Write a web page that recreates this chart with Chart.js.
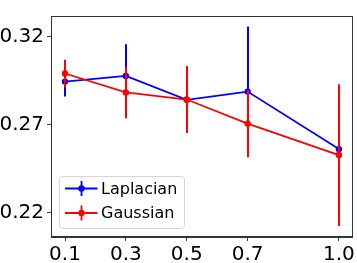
<!DOCTYPE html>
<html>
<head>
<meta charset="utf-8">
<script src="https://cdn.jsdelivr.net/npm/chart.js@4"></script>
<style>
  html, body { margin: 0; padding: 0; background: #fff; }
  #wrap { width: 357px; height: 263px; }
</style>
</head>
<body>
<div id="wrap"><canvas id="myChart" width="357" height="263"></canvas></div>
<script>
var xValues = [0.1, 0.3, 0.5, 0.7, 1.0];
var yTicks = [0.22, 0.27, 0.32];

var laplacian = [0.2946, 0.2978, 0.2842, 0.2889, 0.2562];
var laplacianErr = [0.0085, 0.018, 0.015, 0.037, 0.02];

var gaussian = [0.2992, 0.2884, 0.2844, 0.2707, 0.2528];
var gaussianErr = [0.0078, 0.0146, 0.0191, 0.0191, 0.0403];

var seriesNames = ["Laplacian", "Gaussian"];
var seriesColors = ["#0000ff", "#ff0000"];

function toPoints(values, errs) {
    return values.map(function (v, i) {
        return { x: xValues[i], y: v, err: errs[i] };
    });
}

// error bars, drawn just before each dataset so its line/markers sit on top
var errorBars = {
    id: "errorBars",
    beforeDatasetDraw: function (chart, args) {
        var ctx = chart.ctx;
        var ds = chart.data.datasets[args.index];
        var xs = chart.scales.x, ys = chart.scales.y;
        ctx.save();
        ctx.strokeStyle = ds.borderColor;
        ctx.lineWidth = 2;
        ds.data.forEach(function (p) {
            var px = Math.round(xs.getPixelForValue(p.x)); // snap so the later bar fully hides the earlier one
            ctx.beginPath();
            ctx.moveTo(px, ys.getPixelForValue(p.y - p.err));
            ctx.lineTo(px, ys.getPixelForValue(p.y + p.err));
            ctx.stroke();
        });
        ctx.restore();
    }
};

// frame on all four sides + matplotlib style legend in lower left
var frameAndLegend = {
    id: "frameAndLegend",
    afterDraw: function (chart) {
        var ctx = chart.ctx;
        var a = chart.chartArea;
        ctx.save();
        ctx.strokeStyle = "#333";
        ctx.lineWidth = 1;
        ctx.strokeRect(Math.round(a.left) + 0.5, Math.round(a.top) + 0.5,
            Math.round(a.right - a.left) - 1, Math.round(a.bottom - a.top) - 1);

        var bx = a.left + 8.5, by = a.top + 160.5, bw = 125, bh = 52;
        ctx.fillStyle = "rgba(255,255,255,0.8)";
        ctx.strokeStyle = "#d6d6d6";
        ctx.beginPath();
        ctx.roundRect(bx, by, bw, bh, 3);
        ctx.fill();
        ctx.stroke();

        ctx.font = "16px 'DejaVu Sans'";
        ctx.textBaseline = "middle";
        chart.data.datasets.forEach(function (ds, i) {
            var ly = by + 12 + i * 24.5;
            ctx.strokeStyle = ds.borderColor;
            ctx.lineWidth = 1.8;
            ctx.beginPath();
            ctx.moveTo(bx + 5.5, ly);
            ctx.lineTo(bx + 38, ly);
            ctx.moveTo(bx + 22, ly - 7.5);
            ctx.lineTo(bx + 22, ly + 7.5);
            ctx.stroke();
            ctx.fillStyle = ds.borderColor;
            ctx.beginPath();
            ctx.arc(bx + 22, ly, 3.2, 0, Math.PI * 2);
            ctx.fill();
            ctx.fillStyle = "#000";
            ctx.fillText(ds.label, bx + 41.5, ly + 1);
        });
        ctx.restore();
    }
};

var ctx = document.getElementById("myChart").getContext("2d");

var myNewChart = new Chart(ctx, {
    type: "line",
    data: {
        datasets: [{
            label: seriesNames[0],
            data: toPoints(laplacian, laplacianErr),
            borderColor: seriesColors[0],
            backgroundColor: seriesColors[0],
            borderWidth: 1.8,
            pointRadius: 3.2,
            pointBorderWidth: 0,
            tension: 0,
            order: 2
        }, {
            label: seriesNames[1],
            data: toPoints(gaussian, gaussianErr),
            borderColor: seriesColors[1],
            backgroundColor: seriesColors[1],
            borderWidth: 1.8,
            pointRadius: 3.2,
            pointBorderWidth: 0,
            tension: 0,
            order: 1
        }]
    },
    options: {
        responsive: false,
        animation: false,
        layout: { padding: { left: 0, right: 3, top: 16, bottom: 0 } },
        plugins: {
            legend: { display: false },
            tooltip: { enabled: false }
        },
        scales: {
            x: {
                type: "linear",
                min: 0.054,
                max: 1.045,
                afterBuildTicks: function (scale) {
                    scale.ticks = xValues.map(function (v) { return { value: v }; });
                },
                afterFit: function (scale) { scale.height = 26; },
                ticks: {
                    color: "#000",
                    font: { family: "DejaVu Sans", size: 20 },
                    padding: 2,
                    maxRotation: 0,
                    autoSkip: false,
                    callback: function (v) { return v.toFixed(1); }
                },
                grid: { drawOnChartArea: false, tickLength: 4, color: "#444" },
                border: { color: "#333" }
            },
            y: {
                min: 0.2062,
                max: 0.3319,
                afterBuildTicks: function (scale) {
                    scale.ticks = yTicks.map(function (v) { return { value: v }; });
                },
                afterFit: function (scale) { scale.width = 51; },
                ticks: {
                    color: "#000",
                    font: { family: "DejaVu Sans", size: 20 },
                    padding: 3,
                    callback: function (v) { return v.toFixed(2); }
                },
                grid: { drawOnChartArea: false, tickLength: 4, color: "#444" },
                border: { color: "#333" }
            }
        }
    },
    plugins: [errorBars, frameAndLegend]
});
</script>
</body>
</html>
